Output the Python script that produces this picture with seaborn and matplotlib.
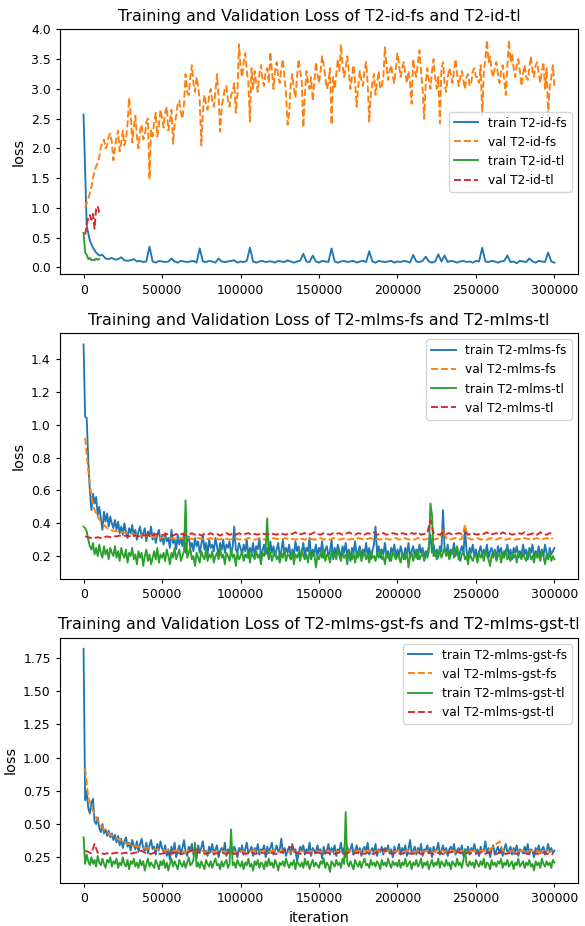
import matplotlib
matplotlib.use("Agg")
import matplotlib.pyplot as plt
import seaborn as sns

# ---------------------------------------------------------------- iterations
train_iter = list(range(0, 300001, 2000))        # coarse train log (every 2000 its)
train_iter_dense = list(range(0, 300001, 1000))  # dense train log (every 1000 its)
val_iter = list(range(1000, 300000, 2000))       # validation every 2000 its
val_iter_dense = list(range(1000, 300001, 1000)) # validation every 1000 its
tl_id_train_iter = [0, 1000, 2000, 3000, 4000, 5000, 6000, 7000, 8000, 9000, 10000]
tl_id_val_iter = [1000, 2000, 3000, 4000, 5000, 6000, 7000, 8000, 9000, 10000]

# ---------------------------------------------------------------- T2-id
id_fs_train = [
    2.57, 0.70, 0.45, 0.33, 0.25, 0.20, 0.21, 0.15, 0.14, 0.16,
    0.13, 0.14, 0.17, 0.12, 0.11, 0.12, 0.14, 0.10, 0.11, 0.09,
    0.10, 0.35, 0.10, 0.08, 0.11, 0.10, 0.09, 0.10, 0.15, 0.10,
    0.08, 0.11, 0.10, 0.09, 0.10, 0.11, 0.08, 0.32, 0.10, 0.09,
    0.11, 0.10, 0.08, 0.15, 0.10, 0.09, 0.10, 0.11, 0.12, 0.08,
    0.10, 0.09, 0.11, 0.33, 0.10, 0.08, 0.10, 0.11, 0.09, 0.10,
    0.10, 0.08, 0.11, 0.10, 0.09, 0.12, 0.10, 0.08, 0.10, 0.11,
    0.23, 0.10, 0.09, 0.20, 0.10, 0.08, 0.11, 0.10, 0.09, 0.32,
    0.10, 0.08, 0.10, 0.11, 0.09, 0.10, 0.11, 0.08, 0.10, 0.11,
    0.09, 0.27, 0.10, 0.08, 0.11, 0.10, 0.09, 0.10, 0.11, 0.08,
    0.10, 0.09, 0.11, 0.10, 0.08, 0.21, 0.10, 0.09, 0.11, 0.18,
    0.10, 0.08, 0.10, 0.22, 0.10, 0.20, 0.09, 0.11, 0.10, 0.08,
    0.10, 0.11, 0.09, 0.10, 0.08, 0.11, 0.10, 0.33, 0.10, 0.09,
    0.11, 0.10, 0.08, 0.10, 0.11, 0.20, 0.09, 0.10, 0.07, 0.11,
    0.10, 0.09, 0.15, 0.10, 0.08, 0.11, 0.10, 0.09, 0.25, 0.10,
    0.08,
]
id_fs_val = [
    1.00, 1.08, 1.15, 1.25, 1.35, 1.50, 1.62, 1.70, 1.75, 1.85,
    2.02, 2.10, 2.15, 2.00, 2.05, 2.20, 2.25, 2.10, 1.80, 2.00,
    2.18, 2.30, 1.95, 2.10, 2.30, 2.05, 2.15, 2.40, 2.85, 2.60,
    2.10, 2.35, 2.55, 2.20, 2.00, 2.30, 2.40, 2.15, 2.20, 2.45,
    2.50, 1.48, 2.30, 2.20, 2.45, 2.60, 2.20, 2.40, 2.65, 2.50,
    2.35, 2.60, 2.70, 2.30, 2.45, 2.65, 2.08, 2.40, 2.55, 2.75,
    2.80, 2.60, 2.50, 2.75, 3.25, 2.95, 2.90, 3.20, 3.40, 3.10,
    2.95, 3.20, 3.05, 2.80, 2.05, 2.60, 2.90, 2.75, 2.65, 2.90,
    3.00, 2.80, 2.70, 2.95, 3.25, 2.90, 2.28, 2.70, 2.85, 3.00,
    3.05, 2.80, 2.70, 2.90, 2.95, 3.10, 2.60, 2.90, 3.75, 3.40,
    3.20, 3.45, 3.60, 3.30, 3.10, 2.45, 3.35, 3.00, 3.30, 3.10,
    2.95, 3.25, 3.40, 3.15, 3.05, 3.30, 3.35, 3.10, 3.62, 3.30,
    3.00, 3.30, 3.45, 3.20, 3.10, 3.35, 3.50, 3.20, 2.90, 2.40,
    2.60, 3.10, 3.25, 3.00, 2.85, 3.20, 3.50, 3.30, 3.15, 2.35,
    2.90, 3.30, 3.10, 3.00, 3.20, 2.80, 3.10, 3.45, 3.25, 3.10,
    3.30, 3.55, 3.40, 3.20, 3.00, 3.10, 3.35, 2.40, 3.20, 3.00,
    3.25, 3.50, 3.30, 3.75, 3.40, 3.20, 3.35, 3.55, 3.30, 3.00,
    3.20, 3.40, 3.10, 2.70, 3.05, 3.30, 3.15, 3.05, 3.30, 3.45,
    3.10, 2.45, 2.90, 3.10, 3.25, 2.90, 3.10, 3.30, 3.00, 3.05,
    3.20, 3.70, 3.40, 3.15, 3.30, 3.40, 3.20, 3.10, 3.35, 3.60,
    3.40, 3.20, 3.35, 3.45, 3.25, 3.10, 3.30, 3.10, 2.75, 3.50,
    3.30, 3.20, 3.45, 3.65, 3.30, 3.00, 2.50, 3.10, 3.35, 3.15,
    3.00, 3.30, 3.50, 3.20, 3.00, 3.20, 2.42, 3.35, 3.45, 3.10,
    2.95, 3.20, 3.35, 3.25, 3.10, 3.30, 3.50, 3.25, 3.05, 3.20,
    3.30, 3.15, 3.00, 3.20, 3.25, 3.05, 3.10, 3.30, 3.35, 3.20,
    3.20, 3.10, 3.40, 2.55, 3.30, 3.50, 3.82, 3.45, 3.55, 3.30,
    3.20, 3.35, 3.45, 3.25, 3.10, 3.30, 3.40, 3.15, 2.90, 3.40,
    3.82, 3.45, 3.60, 3.35, 3.20, 3.40, 3.50, 3.30, 3.05, 3.25,
    3.40, 3.20, 3.15, 3.35, 3.55, 3.30, 3.20, 3.40, 3.45, 3.25,
    3.10, 3.30, 3.45, 3.00, 3.35, 2.55, 3.05, 3.20, 3.40, 3.05,
]
id_tl_train = [0.58, 0.25, 0.21, 0.14, 0.16, 0.12, 0.13, 0.12, 0.15, 0.13, 0.14]
id_tl_val = [0.55, 0.72, 0.83, 0.88, 0.80, 0.90, 0.65, 0.98, 1.03, 0.92]

# ---------------------------------------------------------------- T2-mlms
mlms_fs_train = [
    1.49, 1.05, 1.04, 0.78, 0.60, 0.48, 0.58, 0.52, 0.56, 0.45,
    0.50, 0.43, 0.36, 0.47, 0.41, 0.46, 0.38, 0.44, 0.40, 0.37,
    0.42,
    0.36, 0.41, 0.34, 0.38, 0.33, 0.40, 0.35, 0.31, 0.37, 0.34,
    0.39, 0.32, 0.36, 0.30, 0.35, 0.38, 0.31, 0.34, 0.37, 0.29,
    0.35, 0.32, 0.38, 0.30, 0.34, 0.28, 0.33, 0.36, 0.29, 0.32,
    0.27, 0.34, 0.29, 0.31, 0.25, 0.36, 0.28, 0.30, 0.24, 0.33,
    0.27, 0.31, 0.26, 0.34, 0.22, 0.29, 0.32, 0.25, 0.28, 0.23,
    0.31, 0.26, 0.29, 0.22, 0.27, 0.33, 0.24, 0.28, 0.21, 0.30,
    0.25, 0.27, 0.23, 0.31, 0.26, 0.20, 0.28, 0.24, 0.30, 0.22,
    0.27, 0.25, 0.29, 0.21, 0.26, 0.38, 0.24, 0.22, 0.28, 0.25,
    0.21, 0.27, 0.23, 0.30, 0.19, 0.25, 0.22, 0.28, 0.20, 0.26,
    0.24, 0.31, 0.19, 0.23, 0.27, 0.21, 0.25, 0.18, 0.29, 0.22,
    0.26, 0.20, 0.24, 0.28, 0.19, 0.23, 0.30, 0.21, 0.25, 0.22,
    0.27, 0.18, 0.24, 0.20, 0.29, 0.23, 0.26, 0.19, 0.22, 0.28,
    0.20, 0.25, 0.23, 0.31, 0.18, 0.24, 0.21, 0.27, 0.20, 0.25,
    0.22, 0.29, 0.19, 0.24, 0.26, 0.20, 0.23, 0.30, 0.18, 0.25,
    0.21, 0.27, 0.23, 0.19, 0.26, 0.22, 0.28, 0.20, 0.24, 0.17,
    0.25, 0.22, 0.29, 0.20, 0.23, 0.26, 0.19, 0.24, 0.21, 0.28,
    0.20, 0.25, 0.18, 0.23, 0.27, 0.38, 0.22, 0.26, 0.19, 0.24,
    0.21, 0.28, 0.20, 0.23, 0.17, 0.25, 0.22, 0.27, 0.19, 0.24,
    0.20, 0.26, 0.22, 0.18, 0.25, 0.21, 0.28, 0.19, 0.23, 0.26,
    0.20, 0.24, 0.18, 0.27, 0.22, 0.25, 0.19, 0.23, 0.21, 0.26,
    0.33, 0.22, 0.27, 0.20, 0.24, 0.19, 0.26, 0.23, 0.48, 0.25,
    0.21, 0.27, 0.19, 0.24, 0.22, 0.28, 0.20, 0.25, 0.18, 0.23,
    0.26, 0.21, 0.37, 0.23, 0.19, 0.25, 0.22, 0.27, 0.20, 0.24,
    0.18, 0.23, 0.26, 0.20, 0.24, 0.21, 0.27, 0.19, 0.23, 0.25,
    0.20, 0.24, 0.18, 0.26, 0.22, 0.25, 0.19, 0.23, 0.21, 0.27,
    0.20, 0.24, 0.18, 0.25, 0.22, 0.26, 0.19, 0.23, 0.20, 0.27,
    0.21, 0.24, 0.18, 0.25, 0.22, 0.27, 0.19, 0.23, 0.21, 0.26,
    0.19, 0.24, 0.20, 0.27, 0.22, 0.18, 0.25, 0.21, 0.23, 0.25,
]
mlms_fs_val = [
    0.92, 0.72, 0.56, 0.48, 0.44, 0.41, 0.39, 0.37, 0.36, 0.355,
    0.35, 0.345, 0.345, 0.34, 0.335, 0.335, 0.33, 0.33, 0.325, 0.325,
    0.32, 0.32, 0.315, 0.32, 0.31, 0.315, 0.31, 0.31, 0.305, 0.31,
    0.305, 0.31, 0.30, 0.31, 0.305, 0.30, 0.31, 0.305, 0.30, 0.305,
    0.31, 0.30, 0.305, 0.30, 0.31, 0.305, 0.30, 0.305, 0.31, 0.30,
    0.305, 0.30, 0.31, 0.305, 0.30, 0.305, 0.31, 0.30, 0.305, 0.30,
    0.31, 0.305, 0.30, 0.305, 0.31, 0.30, 0.305, 0.30, 0.31, 0.305,
    0.30, 0.31, 0.305, 0.30, 0.305, 0.31, 0.30, 0.305, 0.30, 0.31,
    0.305, 0.30, 0.305, 0.31, 0.30, 0.305, 0.30, 0.31, 0.305, 0.30,
    0.305, 0.31, 0.30, 0.305, 0.30, 0.31, 0.305, 0.30, 0.305, 0.31,
    0.30, 0.305, 0.31, 0.30, 0.305, 0.30, 0.31, 0.305, 0.30, 0.305,
    0.31, 0.30, 0.305, 0.31, 0.36, 0.31, 0.30, 0.305, 0.31, 0.30,
    0.305, 0.39, 0.31, 0.30, 0.305, 0.31, 0.30, 0.305, 0.30, 0.31,
    0.305, 0.30, 0.31, 0.305, 0.30, 0.305, 0.31, 0.30, 0.305, 0.30,
    0.31, 0.305, 0.30, 0.305, 0.31, 0.30, 0.305, 0.31, 0.30, 0.31,
]
mlms_tl_train = [
    0.38, 0.37, 0.35, 0.30, 0.26, 0.24, 0.28, 0.21, 0.25, 0.20,
    0.27, 0.22, 0.19, 0.26, 0.21, 0.24, 0.18, 0.25, 0.22, 0.20,
    0.26,
    0.19, 0.23, 0.17, 0.25, 0.21, 0.19, 0.24, 0.16, 0.22, 0.20,
    0.25, 0.18, 0.21, 0.15, 0.23, 0.19, 0.22, 0.14, 0.20, 0.24,
    0.17, 0.21, 0.15, 0.19, 0.23, 0.18, 0.25, 0.16, 0.21, 0.19,
    0.22, 0.17, 0.24, 0.20, 0.15, 0.22, 0.19, 0.25, 0.18, 0.21,
    0.24, 0.17, 0.20, 0.23, 0.54, 0.19, 0.22, 0.25, 0.18, 0.20,
    0.14, 0.22, 0.19, 0.16, 0.23, 0.20, 0.18, 0.24, 0.17, 0.21,
    0.19, 0.23, 0.16, 0.20, 0.22, 0.18, 0.25, 0.19, 0.21, 0.15,
    0.22, 0.20, 0.17, 0.24, 0.19, 0.21, 0.14, 0.22, 0.18, 0.20,
    0.23, 0.17, 0.21, 0.19, 0.24, 0.16, 0.22, 0.20, 0.18, 0.23,
    0.19, 0.21, 0.15, 0.22, 0.20, 0.24, 0.43, 0.19, 0.22, 0.17,
    0.21, 0.23, 0.18, 0.20, 0.16, 0.22, 0.19, 0.24, 0.17, 0.21,
    0.20, 0.18, 0.23, 0.15, 0.21, 0.19, 0.22, 0.17, 0.24, 0.20,
    0.18, 0.21, 0.16, 0.23, 0.19, 0.20, 0.22, 0.13, 0.20, 0.18,
    0.22, 0.19, 0.24, 0.17, 0.21, 0.20, 0.16, 0.23, 0.19, 0.21,
    0.18, 0.24, 0.20, 0.17, 0.22, 0.19, 0.21, 0.15, 0.23, 0.20,
    0.18, 0.22, 0.16, 0.21, 0.19, 0.24, 0.17, 0.20, 0.22, 0.18,
    0.21, 0.16, 0.23, 0.19, 0.20, 0.17, 0.22, 0.19, 0.24, 0.18,
    0.20, 0.15, 0.22, 0.19, 0.21, 0.17, 0.23, 0.20, 0.18, 0.21,
    0.19, 0.16, 0.22, 0.20, 0.18, 0.23, 0.13, 0.20, 0.22, 0.17,
    0.21, 0.19, 0.24, 0.18, 0.20, 0.22, 0.17, 0.21, 0.19, 0.23,
    0.52, 0.45, 0.20, 0.23, 0.18, 0.21, 0.24, 0.19, 0.22, 0.25,
    0.20, 0.23, 0.18, 0.21, 0.24, 0.19, 0.22, 0.26, 0.20, 0.17,
    0.21, 0.23, 0.18, 0.20, 0.15, 0.22, 0.19, 0.17, 0.21, 0.20,
    0.16, 0.22, 0.19, 0.21, 0.17, 0.23, 0.20, 0.18, 0.14, 0.21,
    0.19, 0.23, 0.17, 0.20, 0.22, 0.16, 0.21, 0.19, 0.24, 0.18,
    0.20, 0.17, 0.22, 0.19, 0.21, 0.16, 0.23, 0.20, 0.18, 0.22,
    0.19, 0.17, 0.21, 0.23, 0.18, 0.20, 0.16, 0.22, 0.19, 0.21,
    0.17, 0.23, 0.20, 0.15, 0.21, 0.19, 0.22, 0.17, 0.20, 0.18,
]
mlms_tl_val = [
    0.32, 0.315, 0.31, 0.31, 0.315, 0.31, 0.315, 0.32, 0.315, 0.32,
    0.32, 0.325, 0.32, 0.325, 0.32, 0.33, 0.325, 0.32, 0.33, 0.325,
    0.33, 0.325, 0.33, 0.335, 0.325, 0.33, 0.335, 0.33, 0.325, 0.335,
    0.33, 0.335, 0.325, 0.33, 0.34, 0.33, 0.335, 0.325, 0.335, 0.33,
    0.34, 0.33, 0.335, 0.325, 0.335, 0.34, 0.33, 0.335, 0.33, 0.34,
    0.33, 0.335, 0.34, 0.33, 0.335, 0.33, 0.34, 0.335, 0.33, 0.34,
    0.335, 0.33, 0.34, 0.335, 0.33, 0.34, 0.335, 0.345, 0.33, 0.335,
    0.34, 0.33, 0.335, 0.345, 0.335, 0.33, 0.34, 0.335, 0.33, 0.34,
    0.335, 0.34, 0.33, 0.335, 0.345, 0.335, 0.33, 0.34, 0.335, 0.33,
    0.34, 0.335, 0.345, 0.33, 0.335, 0.34, 0.33, 0.335, 0.34, 0.335,
    0.33, 0.34, 0.335, 0.33, 0.34, 0.335, 0.345, 0.33, 0.335, 0.34,
    0.42, 0.34, 0.335, 0.33, 0.345, 0.335, 0.34, 0.33, 0.335, 0.34,
    0.335, 0.345, 0.33, 0.34, 0.335, 0.33, 0.34, 0.335, 0.345, 0.33,
    0.335, 0.34, 0.33, 0.345, 0.335, 0.34, 0.33, 0.335, 0.34, 0.335,
    0.345, 0.33, 0.335, 0.34, 0.33, 0.345, 0.335, 0.33, 0.34, 0.335,
]

# ---------------------------------------------------------------- T2-mlms-gst
gst_fs_train = [
    1.82, 0.68, 0.75, 0.62, 0.58, 0.66, 0.69, 0.52, 0.50, 0.55,
    0.47, 0.44, 0.50, 0.43, 0.46, 0.41, 0.45, 0.40, 0.43, 0.38,
    0.42,
    0.36, 0.41, 0.34, 0.39, 0.32, 0.37, 0.40, 0.33, 0.36, 0.30,
    0.38, 0.34, 0.31, 0.37, 0.29, 0.35, 0.39, 0.32, 0.30, 0.36,
    0.28, 0.34, 0.38, 0.31, 0.33, 0.27, 0.35, 0.30, 0.37, 0.32,
    0.29, 0.34, 0.26, 0.31, 0.23, 0.33, 0.28, 0.36, 0.25, 0.30,
    0.34, 0.27, 0.32, 0.38, 0.29, 0.26, 0.33, 0.30, 0.35, 0.27,
    0.31, 0.24, 0.34, 0.29, 0.32, 0.37, 0.28, 0.30, 0.26, 0.33,
    0.29, 0.35, 0.27, 0.31, 0.34, 0.25, 0.30, 0.32, 0.28, 0.36,
    0.26, 0.31, 0.29, 0.34, 0.27, 0.33, 0.30, 0.25, 0.32, 0.29,
    0.34, 0.27, 0.31, 0.36, 0.28, 0.30, 0.33, 0.26, 0.32, 0.29,
    0.35, 0.27, 0.31, 0.30, 0.34, 0.25, 0.33, 0.28, 0.32, 0.36,
    0.27, 0.30, 0.34, 0.29, 0.31, 0.39, 0.28, 0.32, 0.26, 0.30,
    0.33, 0.27, 0.35, 0.29, 0.31, 0.22, 0.28, 0.33, 0.30, 0.34,
    0.27, 0.31, 0.29, 0.36, 0.26, 0.32, 0.30, 0.28, 0.34, 0.29,
    0.31, 0.24, 0.33, 0.28, 0.30, 0.35, 0.27, 0.32, 0.29, 0.34,
    0.26, 0.31, 0.30, 0.36, 0.28, 0.32, 0.25, 0.33, 0.29, 0.31,
    0.35, 0.27, 0.30, 0.34, 0.28, 0.32, 0.26, 0.31, 0.33, 0.29,
    0.36, 0.27, 0.30, 0.32, 0.28, 0.35, 0.26, 0.31, 0.29, 0.33,
    0.27, 0.32, 0.30, 0.34, 0.28, 0.31, 0.25, 0.33, 0.29, 0.30,
    0.35, 0.27, 0.32, 0.29, 0.34, 0.26, 0.31, 0.38, 0.28, 0.30,
    0.33, 0.27, 0.32, 0.29, 0.35, 0.26, 0.31, 0.30, 0.34, 0.28,
    0.32, 0.25, 0.33, 0.29, 0.31, 0.36, 0.27, 0.30, 0.34, 0.28,
    0.32, 0.26, 0.31, 0.33, 0.29, 0.35, 0.27, 0.30, 0.32, 0.28,
    0.34, 0.26, 0.31, 0.29, 0.33, 0.27, 0.32, 0.30, 0.35, 0.28,
    0.31, 0.26, 0.33, 0.29, 0.30, 0.37, 0.28, 0.32, 0.25, 0.31,
    0.34, 0.27, 0.30, 0.33, 0.28, 0.32, 0.26, 0.31, 0.35, 0.29,
    0.30, 0.33, 0.27, 0.32, 0.29, 0.34, 0.26, 0.31, 0.30, 0.28,
    0.33, 0.29, 0.35, 0.27, 0.31, 0.30, 0.25, 0.32, 0.29, 0.34,
    0.28, 0.31, 0.33, 0.27, 0.30, 0.35, 0.29, 0.32, 0.28, 0.30,
]
gst_fs_val = [
    0.92, 0.70, 0.63, 0.57, 0.53, 0.49, 0.46, 0.44, 0.42, 0.41,
    0.39, 0.38, 0.37, 0.355, 0.35, 0.34, 0.335, 0.33, 0.325, 0.32,
    0.32, 0.315, 0.31, 0.31, 0.305, 0.305, 0.30, 0.305, 0.30, 0.30,
    0.30, 0.295, 0.29, 0.30, 0.295, 0.29, 0.295, 0.30, 0.29, 0.295,
    0.30, 0.29, 0.295, 0.30, 0.295, 0.29, 0.30, 0.295, 0.29, 0.30,
    0.295, 0.29, 0.30, 0.295, 0.30, 0.29, 0.295, 0.30, 0.29, 0.295,
    0.30, 0.295, 0.29, 0.30, 0.295, 0.29, 0.295, 0.30, 0.29, 0.295,
    0.30, 0.29, 0.295, 0.30, 0.295, 0.29, 0.30, 0.295, 0.29, 0.30,
    0.295, 0.29, 0.30, 0.295, 0.30, 0.29, 0.295, 0.30, 0.29, 0.295,
    0.30, 0.295, 0.29, 0.30, 0.295, 0.29, 0.295, 0.30, 0.29, 0.295,
    0.30, 0.29, 0.295, 0.30, 0.295, 0.29, 0.30, 0.295, 0.29, 0.30,
    0.295, 0.29, 0.30, 0.295, 0.30, 0.29, 0.295, 0.30, 0.29, 0.295,
    0.30, 0.295, 0.29, 0.30, 0.295, 0.29, 0.295, 0.30, 0.29, 0.31,
    0.33, 0.35, 0.37, 0.30, 0.295, 0.29, 0.30, 0.295, 0.29, 0.30,
    0.295, 0.29, 0.30, 0.295, 0.30, 0.29, 0.295, 0.30, 0.29, 0.30,
]
gst_tl_train = [
    0.40, 0.20, 0.27, 0.22, 0.19, 0.25, 0.20, 0.23, 0.18, 0.26,
    0.21, 0.19, 0.24, 0.20, 0.17, 0.23, 0.21, 0.25, 0.18, 0.22,
    0.20,
    0.24, 0.17, 0.21, 0.19, 0.25, 0.20, 0.18, 0.23, 0.16, 0.22,
    0.20, 0.24, 0.18, 0.21, 0.17, 0.23, 0.19, 0.22, 0.15, 0.20,
    0.24, 0.18, 0.21, 0.19, 0.17, 0.23, 0.20, 0.16, 0.22, 0.19,
    0.23, 0.17, 0.21, 0.15, 0.20, 0.24, 0.18, 0.22, 0.19, 0.16,
    0.23, 0.20, 0.18, 0.22, 0.17, 0.21, 0.25, 0.19, 0.20, 0.23,
    0.36, 0.18, 0.21, 0.17, 0.22, 0.19, 0.16, 0.23, 0.20, 0.18,
    0.22, 0.17, 0.21, 0.24, 0.19, 0.20, 0.16, 0.22, 0.18, 0.21,
    0.23, 0.17, 0.20, 0.46, 0.19, 0.21, 0.17, 0.23, 0.20, 0.18,
    0.22, 0.16, 0.21, 0.19, 0.24, 0.18, 0.20, 0.15, 0.22, 0.19,
    0.23, 0.17, 0.21, 0.20, 0.16, 0.22, 0.18, 0.24, 0.19, 0.21,
    0.17, 0.23, 0.20, 0.15, 0.21, 0.19, 0.22, 0.18, 0.24, 0.20,
    0.17, 0.21, 0.19, 0.23, 0.16, 0.22, 0.20, 0.18, 0.21, 0.17,
    0.24, 0.19, 0.22, 0.16, 0.20, 0.23, 0.18, 0.21, 0.19, 0.17,
    0.22, 0.20, 0.24, 0.17, 0.21, 0.19, 0.14, 0.22, 0.20, 0.18,
    0.23, 0.19, 0.21, 0.17, 0.24, 0.20, 0.59, 0.21, 0.18, 0.22,
    0.19, 0.16, 0.23, 0.20, 0.18, 0.22, 0.17, 0.21, 0.24, 0.19,
    0.20, 0.17, 0.23, 0.19, 0.21, 0.18, 0.22, 0.20, 0.16, 0.23,
    0.19, 0.21, 0.18, 0.24, 0.20, 0.17, 0.22, 0.19, 0.21, 0.18,
    0.23, 0.17, 0.21, 0.19, 0.24, 0.18, 0.20, 0.22, 0.16, 0.21,
    0.19, 0.23, 0.18, 0.20, 0.24, 0.17, 0.21, 0.19, 0.22, 0.16,
    0.20, 0.23, 0.18, 0.21, 0.19, 0.24, 0.17, 0.22, 0.20, 0.18,
    0.23, 0.19, 0.21, 0.16, 0.22, 0.20, 0.18, 0.24, 0.19, 0.21,
    0.17, 0.23, 0.31, 0.20, 0.18, 0.22, 0.19, 0.21, 0.17, 0.23,
    0.20, 0.18, 0.22, 0.19, 0.24, 0.17, 0.21, 0.20, 0.16, 0.23,
    0.19, 0.21, 0.18, 0.22, 0.20, 0.24, 0.17, 0.21, 0.19, 0.23,
    0.18, 0.20, 0.22, 0.16, 0.21, 0.19, 0.24, 0.18, 0.20, 0.22,
    0.17, 0.21, 0.19, 0.23, 0.18, 0.20, 0.15, 0.22, 0.19, 0.21,
    0.17, 0.24, 0.20, 0.18, 0.22, 0.19, 0.21, 0.17, 0.23, 0.21,
]
gst_tl_val = [
    0.30, 0.29, 0.28, 0.35, 0.285, 0.28, 0.275, 0.28, 0.275, 0.28,
    0.285, 0.275, 0.28, 0.285, 0.275, 0.28, 0.285, 0.29, 0.30, 0.285,
    0.28, 0.275, 0.285, 0.28, 0.275, 0.28, 0.285, 0.275, 0.28, 0.285,
    0.28, 0.275, 0.285, 0.29, 0.30, 0.32, 0.285, 0.28, 0.275, 0.28,
    0.285, 0.275, 0.28, 0.285, 0.28, 0.275, 0.285, 0.28, 0.275, 0.28,
    0.285, 0.275, 0.28, 0.285, 0.275, 0.28, 0.285, 0.28, 0.275, 0.285,
    0.28, 0.275, 0.285, 0.29, 0.31, 0.32, 0.33, 0.285, 0.28, 0.275,
    0.28, 0.285, 0.275, 0.28, 0.285, 0.28, 0.275, 0.285, 0.28, 0.275,
    0.28, 0.285, 0.275, 0.28, 0.285, 0.275, 0.28, 0.285, 0.28, 0.275,
    0.285, 0.28, 0.275, 0.29, 0.30, 0.31, 0.29, 0.28, 0.275, 0.285,
    0.28, 0.275, 0.285, 0.28, 0.275, 0.28, 0.285, 0.275, 0.28, 0.285,
    0.28, 0.275, 0.285, 0.28, 0.275, 0.28, 0.285, 0.29, 0.30, 0.285,
    0.28, 0.275, 0.285, 0.28, 0.275, 0.28, 0.285, 0.275, 0.28, 0.285,
    0.28, 0.275, 0.285, 0.28, 0.275, 0.28, 0.285, 0.275, 0.28, 0.285,
    0.28, 0.275, 0.285, 0.28, 0.275, 0.28, 0.285, 0.275, 0.28, 0.27,
]

# ---------------------------------------------------------------- drawing
C_TRAIN_FS, C_VAL_FS, C_TRAIN_TL, C_VAL_TL = "#1f77b4", "#ff7f0e", "#2ca02c", "#d62728"
LW = 1.35

panels = [
    ("T2-id", (train_iter, id_fs_train), (val_iter_dense, id_fs_val),
     (tl_id_train_iter, id_tl_train), (tl_id_val_iter, id_tl_val), "center right"),
    ("T2-mlms", (train_iter_dense, mlms_fs_train), (val_iter, mlms_fs_val),
     (train_iter_dense, mlms_tl_train), (val_iter, mlms_tl_val), "upper right"),
    ("T2-mlms-gst", (train_iter_dense, gst_fs_train), (val_iter, gst_fs_val),
     (train_iter_dense, gst_tl_train), (val_iter, gst_tl_val), "upper right"),
]

fig, axes = plt.subplots(3, 1, figsize=(5.85, 9.26), dpi=100)
fig.subplots_adjust(left=0.1026, right=0.988, top=0.9687, bottom=0.0464, hspace=0.24)

for ax, (name, tr_fs, va_fs, tr_tl, va_tl, loc) in zip(axes, panels):
    sns.lineplot(x=tr_fs[0], y=tr_fs[1], ax=ax, color=C_TRAIN_FS, linewidth=LW,
                 estimator=None, label=f"train {name}-fs")
    sns.lineplot(x=va_fs[0], y=va_fs[1], ax=ax, color=C_VAL_FS, linewidth=LW,
                 linestyle="--", estimator=None, label=f"val {name}-fs")
    sns.lineplot(x=tr_tl[0], y=tr_tl[1], ax=ax, color=C_TRAIN_TL, linewidth=LW,
                 estimator=None, label=f"train {name}-tl")
    sns.lineplot(x=va_tl[0], y=va_tl[1], ax=ax, color=C_VAL_TL, linewidth=LW,
                 linestyle="--", estimator=None, label=f"val {name}-tl")
    ax.set_title(f"Training and Validation Loss of {name}-fs and {name}-tl", fontsize=11.4)
    ax.set_ylabel("loss", fontsize=10.4)
    ax.set_xlabel("")
    ax.tick_params(labelsize=8.9, length=3.2)
    ax.legend(loc=loc, fontsize=8.8)

axes[2].set_xlabel("iteration", fontsize=10.4)

fig.savefig("out.png", dpi=100)
